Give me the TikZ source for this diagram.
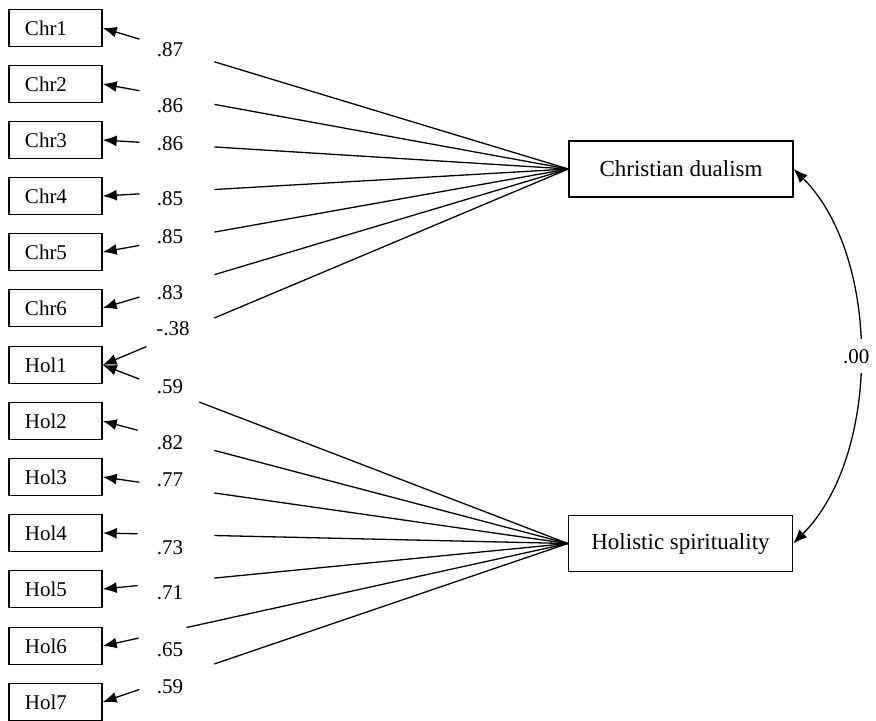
\documentclass[tikz,border=0pt]{standalone}
\usepackage{fontspec}
\setmainfont{Liberation Serif}
\usetikzlibrary{calc,arrows.meta}

\begin{document}
\begin{tikzpicture}[x=0.5pt,y=-0.5pt,
  item/.style={draw,line width=0.7pt,text width=30.5pt,align=left,inner xsep=8pt,minimum height=18.5pt,inner ysep=0pt,font=\fontsize{10.5}{12}\selectfont},
  factor/.style={draw,line width=0.7pt,minimum width=112pt,minimum height=28pt,inner sep=0pt,font=\fontsize{11.5}{13}\selectfont},
  coef/.style={inner sep=1pt,font=\fontsize{10.5}{12}\selectfont},
  load/.style={line width=0.65pt},
  tip/.style={load,-{Latex[length=7pt,width=5.5pt]}}]
\useasboundingbox (0,0) rectangle (876,721);
% ---- observed items ----
\foreach \n/\t/\y in {c1/Chr1/28, c2/Chr2/84, c3/Chr3/140, c4/Chr4/196, c5/Chr5/252, c6/Chr6/308,
  h1/Hol1/365, h2/Hol2/421, h3/Hol3/477, h4/Hol4/533, h5/Hol5/589, h6/Hol6/646, h7/Hol7/702}
  \node[item] (\n) at (55.5,\y) {\t};
% ---- latent factors ----
\node[factor] (cd) at (681,169) {Christian dualism};
\node[factor] (hs) at (680.5,543.5) {Holistic spirituality};
% ---- loadings, broken where the coefficient sits ----
\foreach \n/\f/\a/\b in {c1/cd/.079/.24, c2/cd/.079/.24, c3/cd/.079/.24, c4/cd/.079/.24,
  c5/cd/.079/.24, c6/cd/.079/.24, h1/cd/.094/.24, h1/hs/.079/.208, h2/hs/.075/.24,
  h3/hs/.079/.24, h4/hs/.075/.24, h5/hs/.075/.24, h6/hs/.077/.18, h7/hs/.079/.24} {
  \draw[tip] ($(\n.east)!\a!(\f.west)$) -- (\n.east);
  \draw[load] ($(\n.east)!\b!(\f.west)$) -- (\f.west);
}
\foreach \p/\v [count=\k] in {{170,50}/.87, {170,106}/.86, {170,144}/.86, {170,199}/.85,
  {170,237}/.85, {170,293}/.83, {173,329}/-.38, {170,387}/.59, {170,443}/.82,
  {170,480}/.77, {170,548}/.73, {170,593}/.71, {170,650}/.65, {170,687}/.59}
  \node[coef] (w\k) at (\p) {\v};
% ---- factor correlation ----
\draw[load,{Latex[length=7pt,width=5.5pt]}-{Latex[length=7pt,width=5.5pt]}]
  (cd.east) to[out=-45,in=45,looseness=0.85] node[coef,fill=white,inner ysep=5pt,xshift=-1.5pt] (r) {.00} (hs.east);
\end{tikzpicture}
\end{document}
